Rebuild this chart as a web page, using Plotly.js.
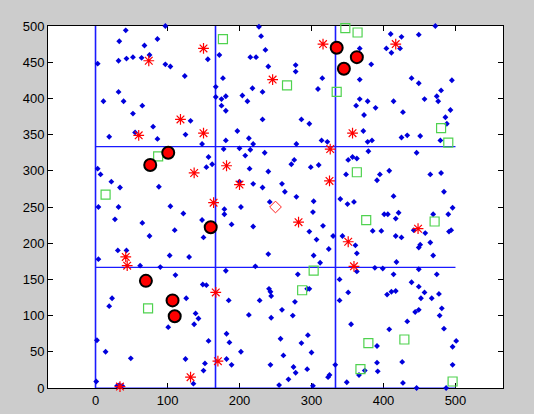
<!DOCTYPE html>
<html>
<head>
<meta charset="utf-8">
<script src="https://cdn.plot.ly/plotly-3.0.1.min.js"></script>
<style>html,body{margin:0;padding:0;background:#cccccc;}#chart{width:534px;height:414px;}</style>
</head>
<body>
<div id="chart"></div>
<script>
// Blue sample points
const blueX = [3,42,33,32,43,52,64,68,75,86,97,97,104,124,156,32,11,39,65,52,132,80,19,55,86,125,148,
227,230,236,172,215,223,240,278,278,315,177,309,167,218,232,167,175,181,204,211,175,181,232,286,297,197,213,219,181,279,314,322,
472,410,425,449,367,404,411,423,383,367,439,449,495,480,474,476,367,378,362,389,414,457,493,427,373,486,488,372,378,384,425,433,451,479,
3,7,22,34,88,4,32,27,65,104,122,148,110,75,150,154,31,43,4,103,130,62,90,
178,200,215,208,235,157,162,214,240,276,272,299,310,200,219,232,259,263,279,242,303,179,179,202,302,189,219,297,316,307,330,324,303,312,240,222,348,340,350,359,351,357,363,343,
379,446,395,391,408,465,480,484,414,401,406,421,417,469,496,490,385,397,417,425,442,458,491,494,465,451,449,469,361,363,418,388,399,449,
111,149,154,23,19,126,139,143,137,101,157,2,14,49,125,152,150,1,30,33,37,136,
181,281,241,243,244,185,228,277,294,297,259,213,244,274,339,351,339,355,182,186,257,286,295,202,261,300,182,189,243,275,278,294,268,323,325,255,302,333,349,
363,414,474,439,449,457,405,411,417,452,467,477,481,478,444,449,433,408,484,391,501,496,391,392,426,496,374,366,427,446,487];
const blueY = [448,494,479,452,455,457,456,473,460,482,500,447,444,431,454,409,396,396,390,379,369,361,347,353,344,350,337,
499,486,467,460,457,457,444,446,437,428,428,413,416,414,409,402,399,403,404,396,390,383,371,371,365,355,345,337,342,337,342,340,
500,489,485,488,469,469,463,469,447,426,428,421,425,411,403,396,399,396,390,387,396,399,384,381,377,374,365,355,340,342,346,349,348,342,
303,295,285,277,278,250,250,233,228,251,241,232,218,210,208,305,190,190,178,183,181,169,167,
330,331,329,321,325,319,309,303,299,315,309,305,308,285,282,277,282,271,264,257,258,247,240,250,243,226,223,216,224,205,210,192,183,173,185,168,295,261,254,257,315,319,317,210,
327,325,295,287,300,295,297,271,265,240,240,242,234,240,249,240,217,217,210,208,218,214,216,218,201,198,194,183,197,186,174,166,165,164,
156,143,142,124,113,124,103,96,88,84,65,66,50,41,40,34,24,9,3,4,3,6,
162,157,137,133,127,121,121,119,137,137,108,101,97,100,150,132,121,88,75,63,68,62,73,50,45,49,40,32,32,29,21,26,12,15,18,4,3,32,8,
161,157,157,146,140,132,129,133,134,124,124,130,110,100,105,108,92,81,82,58,65,57,35,23,36,32,24,18,7,0,0];

// Red star points
const starX = [74,150,118,60,150,316,246,357,417,137,42,44,326,182,200,164,325,282,351,359,448,132,34,167,170];
const starY = [452,469,371,349,352,475,426,352,475,297,181,169,330,307,281,256,286,229,202,168,220,15,2,132,37];

// Green square points
const squareX = [177,266,347,364,335,480,490,87,14,363,376,471,73,303,287,368,379,429,496];
const squareY = [482,418,497,491,409,359,339,320,267,298,232,230,110,162,135,26,62,67,9];

// Red filled circle points
const circleX = [335,363,345,101,76,160,70,107,110];
const circleY = [470,457,441,325,308,222,148,121,99];

// Red diamond point
const centerX = [250];
const centerY = [250];

// Grid division positions
const gridPos = [0, 166.67, 333.33];
const gridMin = 0, gridMax = 500;

const vx = [], vy = [], hx = [], hy = [];
gridPos.forEach(g => {
  vx.push(g, g, null); vy.push(gridMin, gridMax, null);
  hx.push(gridMin, gridMax, null); hy.push(g, g, null);
});

const blue = 'rgb(0,0,220)';
const lineBlue = '#1a1aff';
const traces = [
  {x: vx, y: vy, mode: 'lines', cliponaxis: false, line: {color: lineBlue, width: 1.6}, hoverinfo: 'skip'},
  {x: hx, y: hy, mode: 'lines', cliponaxis: false, line: {color: lineBlue, width: 1.2}, hoverinfo: 'skip'},
  {x: blueX, y: blueY, mode: 'markers', cliponaxis: false,
   marker: {symbol: 'diamond', size: 4.5, color: blue}},
  {x: squareX, y: squareY, mode: 'markers', cliponaxis: false,
   marker: {symbol: 'square-open', size: 9, color: '#4fd24f', line: {color: '#4fd24f', width: 1.2}}},
  {x: starX, y: starY, mode: 'markers', cliponaxis: false,
   marker: {symbol: 'asterisk-open', size: 9, color: '#ff0000', line: {color: '#ff0000', width: 1.2}}},
  {x: circleX, y: circleY, mode: 'markers', cliponaxis: false,
   marker: {symbol: 'circle', size: 12, color: '#ff0000', line: {color: '#000000', width: 2}}},
  {x: centerX, y: centerY, mode: 'markers', cliponaxis: false,
   marker: {symbol: 'diamond-open', size: 9, color: '#ff2020', line: {color: '#ff2020', width: 1}}}
];

const axisCommon = {
  showgrid: false, zeroline: false, showline: true, linecolor: '#000000', linewidth: 1,
  mirror: 'ticks', ticks: 'inside', ticklen: 5, tickcolor: '#000000', layer: 'below traces',
  tickfont: {family: 'Liberation Sans, Arial, sans-serif', size: 13, color: '#000000'}
};

const layout = {
  width: 534, height: 414,
  paper_bgcolor: '#cccccc', plot_bgcolor: '#ffffff',
  margin: {l: 48, r: 31, t: 26, b: 26},
  showlegend: false,
  xaxis: Object.assign({}, axisCommon, {range: [-66, 566], tickvals: [0,100,200,300,400,500]}),
  yaxis: Object.assign({}, axisCommon, {range: [0, 500], tickvals: [0,50,100,150,200,250,300,350,400,450,500]})
};

Plotly.newPlot('chart', traces, layout, {displayModeBar: false, staticPlot: true});
</script>
</body>
</html>
